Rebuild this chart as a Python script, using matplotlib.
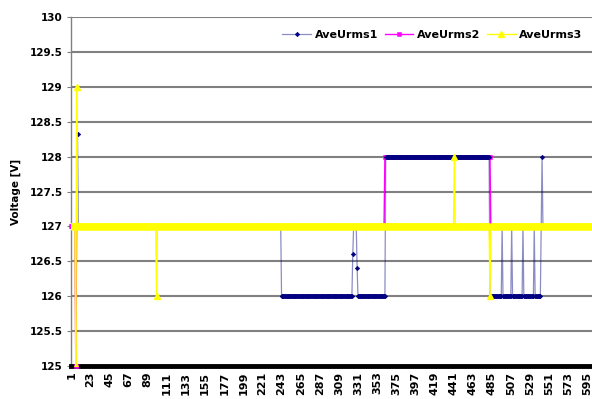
import numpy as np
import matplotlib
matplotlib.use("Agg")
import matplotlib.pyplot as plt

plt.rcParams['font.family'] = ['DejaVu Sans']
plt.rcParams['font.weight'] = 'bold'

# number of samples on the category axis
n_points = 600

# each series is stored as steps: (first sample, value held until the next step)
urms1_starts = [1, 8, 9, 243, 325, 326, 330, 331, 363, 483, 497, 498, 508, 509,
                521, 522, 534, 535, 542, 543, 544]
urms1_values = [127, 128.33, 127, 126, 126.6, 127, 126.4, 126, 128, 126, 127, 126,
                127, 126, 127, 126, 127, 126, 127, 128, 127]

urms2_starts = [1, 6, 7, 362, 484]
urms2_values = [127, 125, 127, 128, 127]

urms3_starts = [1, 6, 7, 8, 99, 100, 442, 443, 483, 484]
urms3_values = [127, 125, 129, 127, 126, 127, 128, 127, 126, 127]

x_tick_labels = [1, 23, 45, 67, 89, 111, 133, 155, 177, 199, 221, 243, 265, 287,
                 309, 331, 353, 375, 397, 419, 441, 463, 485, 507, 529, 551, 573, 595]
y_ticks = [125, 125.5, 126, 126.5, 127, 127.5, 128, 128.5, 129, 129.5, 130]


def expand(starts, values):
    counts = np.diff(starts + [n_points + 1])
    return np.repeat(values, counts)


x = np.arange(1, n_points + 1)
urms1 = expand(urms1_starts, urms1_values)
urms2 = expand(urms2_starts, urms2_values)
urms3 = expand(urms3_starts, urms3_values)

fig = plt.figure(figsize=(5.92, 3.99), dpi=100)
ax = fig.add_axes([71 / 592, 33 / 399, 521 / 592, 349 / 399])

ax.plot(x, urms2, color='#FF00FF', lw=1.0, marker='s', ms=2.2, mew=0.4,
        label='AveUrms2', zorder=3, clip_on=False)
ax.plot(x, urms1, color=(0, 0, 0.5, 0.45), lw=0.9, marker='D', ms=2.2, mew=0.5,
        mfc='#000080', mec='#000080', label='AveUrms1', zorder=4)
ax.plot(x, urms3, color='#FFFF00', lw=1.0, marker='^', ms=5, mew=1.0,
        label='AveUrms3', zorder=5)

# thick black base line of the plot area
ax.axhline(125, color='black', lw=3.5, zorder=2.8, clip_on=False)

ax.set_xlim(0.5, n_points + 0.5)
ax.set_ylim(125, 130)
ax.set_yticks(y_ticks)
ax.set_yticklabels(['%g' % v for v in y_ticks], fontsize=7.5, fontweight='bold')
ax.set_xticks(x_tick_labels)
ax.set_xticklabels([str(v) for v in x_tick_labels], rotation=90, fontsize=8,
                   fontweight='bold')
ax.tick_params(axis='x', length=0, pad=4)
ax.tick_params(axis='y', length=3, pad=3, color='#808080')

ax.yaxis.grid(True, color='#808080', lw=1.5)
ax.set_axisbelow(True)
ax.spines['top'].set_visible(False)
ax.spines['right'].set_visible(False)
ax.spines['bottom'].set_visible(False)
ax.spines['left'].set_color('#808080')
ax.spines['left'].set_linewidth(1.0)

ax.set_ylabel('Voltage [V]', fontsize=7.5, fontweight='bold', labelpad=6)

handles, labels = ax.get_legend_handles_labels()
order = [1, 0, 2]
ax.legend([handles[i] for i in order], [labels[i] for i in order],
          loc='center right', bbox_to_anchor=(0.99, 0.948), ncol=3,
          frameon=False, fontsize=8, numpoints=1, handlelength=2.6,
          columnspacing=0.6, handletextpad=0.3, borderaxespad=0)

fig.savefig('out.png', dpi=100)
